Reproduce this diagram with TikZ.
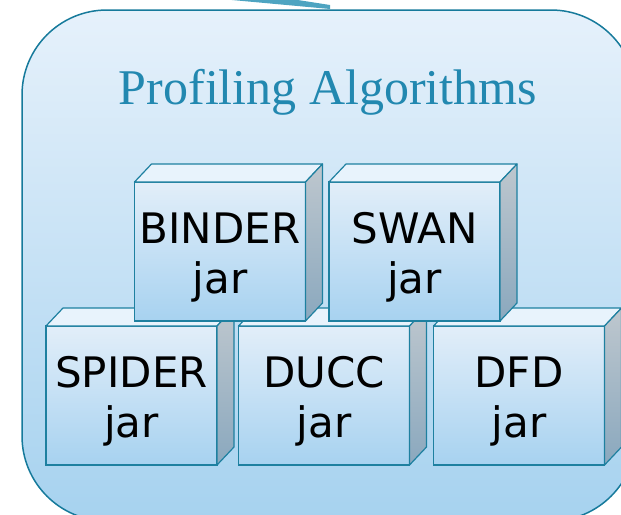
\documentclass[tikz,border=0pt]{standalone}
\usepackage{fontspec}
\setmainfont{Liberation Serif}
\newfontfamily\jarfont{DejaVu Sans}
\usetikzlibrary{calc}

\definecolor{rimteal}{RGB}{22,122,155}
\definecolor{boxrim}{RGB}{30,128,160}
\definecolor{paneltop}{RGB}{230,241,251}
\definecolor{panelbot}{RGB}{166,210,239}
\definecolor{facetop}{RGB}{226,238,249}
\definecolor{facebot}{RGB}{167,210,240}
\definecolor{lidfill}{RGB}{232,243,252}
\definecolor{sidetop}{RGB}{190,199,206}
\definecolor{sidebot}{RGB}{138,168,190}
\definecolor{titleteal}{RGB}{34,136,176}
\definecolor{arrowteal}{RGB}{78,164,193}

% pushes the two lines of a jar label down a little
\newcommand{\jarstrut}{\rule{0pt}{43pt}}

% lid and side of one jar cube
\newcommand{\jarfaces}[1]{%
	\draw[jarlid] (#1.north west) -- ++(17,-18) -- ($(#1.north east)+(17,-18)$) -- (#1.north east) -- cycle;
	\draw[jarside] (#1.north east) -- ++(17,-18) -- ($(#1.south east)+(17,-18)$) -- (#1.south east) -- cycle;}

\begin{document}
\begin{tikzpicture}[x=1pt,y=-1pt,
	jarbox/.style={draw=boxrim, line width=1.2pt, top color=facetop, bottom color=facebot,
		minimum width=171pt, minimum height=139pt, inner sep=0pt, outer sep=0pt,
		align=center, font=\jarfont\fontsize{42}{50}\selectfont},
	jarlid/.style={draw=boxrim, line width=1.2pt, fill=lidfill, line join=round},
	jarside/.style={draw=boxrim, line width=1.2pt, top color=sidetop, bottom color=sidebot, line join=round}]
	\clip (0,0) rectangle (621,514);
	%arrow tip from above
		\fill[arrowteal] (210,-2) -- (285,-2) -- (330,5) -- (330,9) -- cycle;
	%panel
		\draw[draw=rimteal, line width=1.5pt, top color=paneltop, bottom color=panelbot, rounded corners=85pt] (22,10) rectangle (636,521);
		\node[font=\fontsize{50}{54}\selectfont, text=titleteal, anchor=base] (title) at (328,104) {Profiling Algorithms};
	%bottom row
		\node[jarbox] (spider) at (131.5,395.5) {\jarstrut SPIDER\\jar};
		\jarfaces{spider}
		\node[jarbox] (ducc) at (324,395.5) {\jarstrut DUCC\\jar};
		\jarfaces{ducc}
		\node[jarbox] (dfd) at (519,395.5) {\jarstrut DFD\\jar};
		\jarfaces{dfd}
	%top row
		\node[jarbox] (binder) at (220,251.5) {\jarstrut BINDER\\jar};
		\jarfaces{binder}
		\node[jarbox] (swan) at (414.5,251.5) {\jarstrut SWAN\\jar};
		\jarfaces{swan}
\end{tikzpicture}
\end{document}
